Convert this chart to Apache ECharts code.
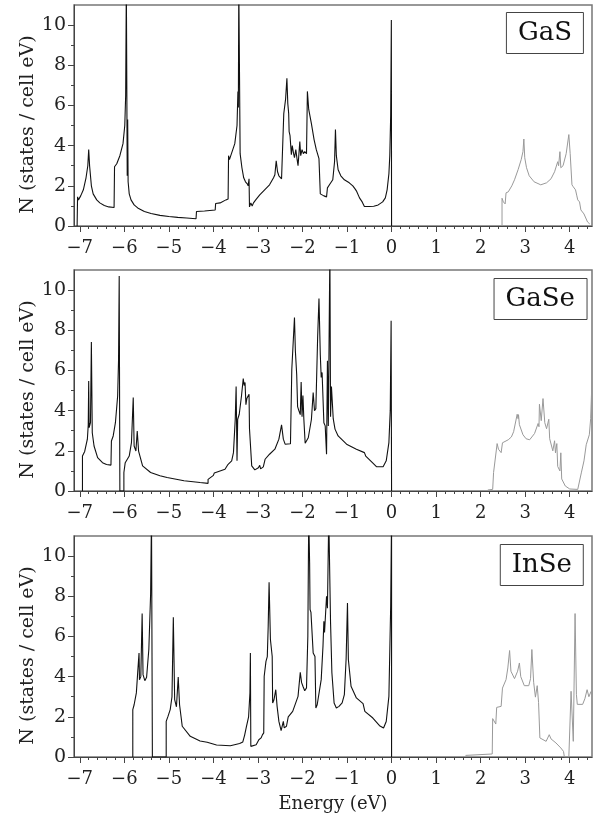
<!DOCTYPE html>
<html>
<head>
<meta charset="utf-8" />
<title>DOS GaS GaSe InSe</title>
<script src="https://cdn.jsdelivr.net/npm/echarts@6/dist/echarts.min.js"></script>
<style>
    html, body { margin: 0; padding: 0; background: #fff; }
    #main { width: 594px; height: 819px; }
</style>
</head>
<body>
<div id="main"></div>
<script type="text/javascript">
// energy (eV), N (states / cell eV)
var gasValence = [[-7.06,0],[-7.05,1.45],[-7.03,1.3],[-6.98,1.5],[-6.92,1.8],[-6.86,2.4],[-6.82,3.0],[-6.80,3.8],[-6.78,3.0],[-6.74,2.0],[-6.70,1.6],[-6.62,1.3],[-6.55,1.15],[-6.45,1.02],[-6.35,0.95],[-6.23,0.92],[-6.22,2.95],[-6.17,3.1],[-6.10,3.5],[-6.03,4.1],[-5.99,5.0],[-5.97,6.5],[-5.955,12],[-5.945,12],[-5.935,2.5],[-5.925,5.3],[-5.915,2.2],[-5.89,1.6],[-5.85,1.3],[-5.78,1.05],[-5.70,0.9],[-5.55,0.72],[-5.40,0.62],[-5.20,0.53],[-5.00,0.47],[-4.80,0.43],[-4.60,0.4],[-4.39,0.36],[-4.38,0.72],[-4.2,0.75],[-3.96,0.8],[-3.95,1.12],[-3.85,1.15],[-3.72,1.3],[-3.67,1.35],[-3.66,3.5],[-3.64,3.3],[-3.58,3.7],[-3.52,4.1],[-3.47,5.0],[-3.45,6.7],[-3.44,5.9],[-3.43,12],[-3.42,12],[-3.40,3.6],[-3.36,2.9],[-3.32,2.4],[-3.28,2.2],[-3.24,2.1],[-3.22,2.0],[-3.2,2.35],[-3.19,0.95],[-3.16,1.15],[-3.13,1.0],[-3.10,1.15],[-3.05,1.3],[-2.96,1.55],[-2.85,1.8],[-2.74,2.05],[-2.65,2.4],[-2.62,2.55],[-2.59,3.25],[-2.56,2.7],[-2.53,2.5],[-2.47,2.35],[-2.43,2.35],[-2.42,5.6],[-2.38,6.3],[-2.35,7.35],[-2.33,6.1],[-2.31,5.6],[-2.30,4.7],[-2.28,4.5],[-2.25,3.55],[-2.23,4.0],[-2.20,3.6],[-2.18,3.4],[-2.15,3.8],[-2.12,3.3],[-2.10,3.0],[-2.08,3.05],[-2.06,4.2],[-2.04,3.5],[-2.01,3.8],[-1.98,3.6],[-1.95,3.7],[-1.91,3.6],[-1.89,6.7],[-1.86,5.8],[-1.80,5.1],[-1.74,4.3],[-1.69,3.8],[-1.63,3.35],[-1.60,1.6],[-1.52,1.5],[-1.46,1.45],[-1.44,1.9],[-1.38,2.1],[-1.32,2.3],[-1.28,3.2],[-1.26,4.8],[-1.24,3.5],[-1.20,2.8],[-1.14,2.5],[-1.06,2.3],[-0.95,2.15],[-0.87,2.0],[-0.82,1.85],[-0.79,1.75],[-0.72,1.4],[-0.66,1.2],[-0.61,0.97],[-0.50,0.97],[-0.40,0.98],[-0.30,1.05],[-0.20,1.2],[-0.14,1.4],[-0.10,1.8],[-0.06,2.6],[-0.04,3.5],[-0.02,5.5],[-0.005,10.25],[0,0]];
var gasConduction = [[2.48,0],[2.48,1.38],[2.51,1.2],[2.55,1.1],[2.57,1.65],[2.62,1.7],[2.70,2.0],[2.76,2.3],[2.84,2.8],[2.91,3.3],[2.95,3.7],[2.97,4.33],[2.99,3.4],[3.03,2.9],[3.09,2.5],[3.2,2.2],[3.35,2.05],[3.48,2.15],[3.58,2.35],[3.66,2.7],[3.73,3.2],[3.75,3.0],[3.78,3.7],[3.80,2.9],[3.85,3.0],[3.92,3.6],[3.98,4.55],[4.01,3.6],[4.05,2.05],[4.08,1.95],[4.13,1.8],[4.16,1.5],[4.18,1.3],[4.22,1.2],[4.25,0.8],[4.32,0.6],[4.4,0.2],[4.45,0.1]];

var gaseValence = [[-6.94,0],[-6.94,1.74],[-6.89,1.97],[-6.83,2.58],[-6.81,3.3],[-6.80,5.48],[-6.79,3.16],[-6.76,3.4],[-6.74,7.42],[-6.72,2.9],[-6.68,2.24],[-6.60,1.66],[-6.49,1.41],[-6.40,1.32],[-6.30,1.29],[-6.29,2.49],[-6.25,2.74],[-6.2,3.4],[-6.15,4.73],[-6.13,6.5],[-6.115,10.7],[-6.10,0],[-6.01,0],[-6.01,0.92],[-5.98,1.41],[-5.89,1.74],[-5.84,2.41],[-5.80,4.65],[-5.78,2.24],[-5.74,1.99],[-5.71,2.99],[-5.68,1.99],[-5.59,1.25],[-5.41,0.92],[-5.2,0.76],[-5.04,0.67],[-4.66,0.51],[-4.3,0.42],[-4.12,0.38],[-4.12,0.58],[-4.0,0.78],[-3.98,0.9],[-3.74,1.08],[-3.67,1.33],[-3.59,1.5],[-3.55,1.91],[-3.51,3.57],[-3.49,5.2],[-3.47,1.5],[-3.455,3.57],[-3.42,3.82],[-3.37,4.73],[-3.33,5.6],[-3.31,5.25],[-3.29,5.4],[-3.27,4.3],[-3.25,4.6],[-3.20,4.82],[-3.19,3.1],[-3.14,1.25],[-3.07,1.05],[-2.99,1.16],[-2.96,1.28],[-2.94,1.1],[-2.88,1.2],[-2.84,1.58],[-2.74,1.83],[-2.62,2.08],[-2.53,2.58],[-2.47,3.29],[-2.43,2.58],[-2.39,2.33],[-2.27,2.35],[-2.24,6.06],[-2.18,8.64],[-2.16,6.98],[-2.13,5.8],[-2.11,4.2],[-2.08,3.99],[-2.05,3.8],[-2.03,5.43],[-2.01,3.7],[-1.99,4.75],[-1.97,3.6],[-1.94,2.38],[-1.87,2.65],[-1.80,3.56],[-1.76,4.9],[-1.73,4.0],[-1.70,4.1],[-1.66,7.64],[-1.63,9.58],[-1.60,6.77],[-1.58,5.65],[-1.56,5.9],[-1.52,3.4],[-1.49,3.24],[-1.46,1.83],[-1.44,6.48],[-1.42,3.24],[-1.385,12],[-1.37,3.7],[-1.35,5.2],[-1.31,3.6],[-1.27,3.08],[-1.20,2.74],[-1.01,2.33],[-0.79,2.08],[-0.61,1.91],[-0.58,1.74],[-0.43,1.41],[-0.34,1.21],[-0.19,1.21],[-0.12,1.5],[-0.06,2.41],[-0.03,4.0],[-0.01,8.47],[0,0]];
var gaseConduction = [[2.16,0.05],[2.27,0.08],[2.29,0.92],[2.37,2.36],[2.40,2.08],[2.46,1.91],[2.49,2.4],[2.62,2.55],[2.69,2.69],[2.74,2.95],[2.82,3.82],[2.84,3.6],[2.85,3.8],[2.87,3.3],[2.95,2.8],[3.02,2.6],[3.10,2.55],[3.21,2.86],[3.29,3.36],[3.31,3.2],[3.32,4.32],[3.36,3.5],[3.40,4.6],[3.44,3.4],[3.48,3.1],[3.53,3.57],[3.55,2.6],[3.62,2.0],[3.66,2.5],[3.68,1.9],[3.71,2.36],[3.73,1.22],[3.78,1.0],[3.80,1.9],[3.82,0.6],[3.90,0.25],[4.00,0.1],[4.18,0.08],[4.26,0.9],[4.32,1.5],[4.37,2.3],[4.44,2.8],[4.47,3.6],[4.49,4.9]];

var inseValence = [[-5.81,0],[-5.81,2.36],[-5.78,2.6],[-5.73,3.19],[-5.70,4.2],[-5.67,5.18],[-5.66,3.84],[-5.63,4.0],[-5.60,7.14],[-5.58,4.1],[-5.54,3.8],[-5.50,3.97],[-5.45,5.35],[-5.41,8.1],[-5.39,12],[-5.37,0],[-5.06,0],[-5.06,1.77],[-5.02,2.02],[-4.97,2.36],[-4.93,3.0],[-4.90,6.96],[-4.87,2.86],[-4.83,2.5],[-4.79,3.98],[-4.76,2.6],[-4.70,1.53],[-4.52,1.03],[-4.3,0.8],[-4.14,0.73],[-3.93,0.6],[-3.62,0.56],[-3.41,0.67],[-3.34,0.75],[-3.30,1.08],[-3.26,1.5],[-3.21,2.0],[-3.18,3.19],[-3.17,5.18],[-3.16,0.53],[-3.04,0.61],[-2.98,0.86],[-2.93,0.95],[-2.90,1.1],[-2.87,1.2],[-2.86,4.02],[-2.82,4.76],[-2.79,5.0],[-2.77,6.51],[-2.75,8.7],[-2.72,5.85],[-2.69,5.94],[-2.68,5.0],[-2.67,2.69],[-2.64,2.85],[-2.60,3.35],[-2.57,2.52],[-2.53,1.77],[-2.48,1.31],[-2.43,1.77],[-2.41,1.45],[-2.36,1.53],[-2.32,2.0],[-2.22,2.27],[-2.10,3.02],[-2.05,4.22],[-2.02,3.7],[-1.99,3.52],[-1.95,3.3],[-1.91,3.44],[-1.88,6.0],[-1.86,12],[-1.84,9.67],[-1.83,7.34],[-1.81,7.2],[-1.76,5.18],[-1.72,5.0],[-1.70,2.44],[-1.67,2.6],[-1.63,2.68],[-1.58,3.85],[-1.54,5.51],[-1.52,6.76],[-1.505,6.2],[-1.46,8.0],[-1.44,7.4],[-1.41,12],[-1.39,12],[-1.37,6.7],[-1.34,4.19],[-1.29,2.69],[-1.24,2.44],[-1.18,2.52],[-1.11,2.69],[-1.06,3.1],[-1.02,4.9],[-0.99,7.67],[-0.97,4.85],[-0.91,3.52],[-0.79,2.94],[-0.64,2.66],[-0.60,2.27],[-0.42,1.94],[-0.27,1.56],[-0.18,1.44],[-0.12,1.77],[-0.06,3.02],[-0.02,7.5],[0,12],[0,0]];
var inseConduction = [[1.66,0.08],[2.26,0.15],[2.27,1.91],[2.34,1.64],[2.36,2.47],[2.46,2.52],[2.49,3.43],[2.57,3.85],[2.61,4.43],[2.65,5.3],[2.68,4.27],[2.76,3.9],[2.83,4.27],[2.87,4.68],[2.90,4.0],[2.98,3.55],[3.08,3.55],[3.12,3.9],[3.15,5.35],[3.19,3.72],[3.23,2.98],[3.27,3.55],[3.30,2.72],[3.33,0.95],[3.47,0.78],[3.54,1.11],[3.58,0.9],[3.69,0.7],[3.80,0.45],[3.86,0.28],[3.88,0],[3.98,0],[4.03,3.27],[4.08,0.78],[4.12,7.14],[4.15,3.1],[4.17,2.62],[4.29,2.62],[4.34,2.9],[4.39,3.35],[4.43,3.0],[4.48,3.27]];

var panelNames = ['GaS', 'GaSe', 'InSe'];
var valenceSets = [gasValence, gaseValence, inseValence];
var conductionSets = [gasConduction, gaseConduction, inseConduction];

var xMajorTicks = [-7, -6, -5, -4, -3, -2, -1, 0, 1, 2, 3, 4];
var yMajorTicks = [0, 2, 4, 6, 8, 10];
var yMinorTicks = [1, 3, 5, 7, 9];
var xMinorTicks = [];
for (var k = -34; k <= 22; k++) {
    if (k % 5 !== 0) xMinorTicks.push(k / 5);
}

var xMin = -7.13, xMax = 4.5, yMin = 0, yMax = 11;
var font = 'DejaVu Serif';
var textColor = '#222';
var axisColor = '#444';

var gridTops = [5, 270, 536];
var labelBoxes = [
    { right: 10, top: 12 },
    { right: 7, top: 278 },
    { right: 10, top: 544 }
];

function fmt(v) {
    return v < 0 ? '\u2212' + (-v) : String(v);
}

var myChart = echarts.init(document.getElementById('main'));

var grid = [], xAxis = [], yAxis = [], series = [], title = [];

for (var i = 0; i < 3; i++) {
    grid.push({
        left: 74, top: gridTops[i], width: 518, height: 221,
        show: true, borderColor: '#777', borderWidth: 1.5, backgroundColor: 'transparent'
    });

    // main x axis: line, major ticks, labels
    xAxis.push({
        gridIndex: i, type: 'value', min: xMin, max: xMax, position: 'bottom',
        axisLine: { show: true, onZero: false, lineStyle: { color: axisColor, width: 1 } },
        axisTick: { show: true, inside: false, length: 6, customValues: xMajorTicks, lineStyle: { color: axisColor } },
        axisLabel: { customValues: xMajorTicks, formatter: fmt, fontFamily: font, fontSize: 18, color: textColor, margin: 13 },
        splitLine: { show: false },
        name: i === 2 ? 'Energy (eV)' : '',
        nameLocation: 'middle', nameGap: 38, nameMoveOverlap: false,
        nameTextStyle: { fontFamily: font, fontSize: 18, color: textColor }
    });
    // minor x ticks
    xAxis.push({
        gridIndex: i, type: 'value', min: xMin, max: xMax, position: 'bottom',
        axisLine: { show: false, onZero: false },
        axisTick: { show: true, inside: false, length: 3, customValues: xMinorTicks, lineStyle: { color: axisColor } },
        axisLabel: { show: false },
        splitLine: { show: false }
    });

    yAxis.push({
        gridIndex: i, type: 'value', min: yMin, max: yMax, position: 'left',
        axisLine: { show: true, onZero: false, lineStyle: { color: axisColor, width: 1 } },
        axisTick: { show: true, inside: false, length: 6, customValues: yMajorTicks, lineStyle: { color: axisColor } },
        axisLabel: { customValues: yMajorTicks, fontFamily: font, fontSize: 19, color: textColor, margin: 8 },
        splitLine: { show: false },
        name: 'N (states / cell eV)',
        nameLocation: 'middle', nameGap: 36, nameRotate: 90, nameMoveOverlap: false,
        nameTextStyle: { fontFamily: font, fontSize: 19, color: textColor, padding: [0, 18, 0, 0] }
    });
    yAxis.push({
        gridIndex: i, type: 'value', min: yMin, max: yMax, position: 'left',
        axisLine: { show: false, onZero: false },
        axisTick: { show: true, inside: false, length: 3, customValues: yMinorTicks, lineStyle: { color: axisColor } },
        axisLabel: { show: false },
        splitLine: { show: false }
    });

    series.push({
        name: panelNames[i] + ' valence', type: 'line',
        xAxisIndex: 2 * i, yAxisIndex: 2 * i,
        data: valenceSets[i], showSymbol: false, clip: true,
        lineStyle: { color: '#111', width: 1.1 }
    });
    series.push({
        name: panelNames[i] + ' conduction', type: 'line',
        xAxisIndex: 2 * i, yAxisIndex: 2 * i,
        data: conductionSets[i], showSymbol: false, clip: true,
        lineStyle: { color: '#999', width: 1 }
    });

    title.push({
        text: panelNames[i], right: labelBoxes[i].right, top: labelBoxes[i].top,
        padding: [8, 12, 8, 12], borderColor: '#444', borderWidth: 1, backgroundColor: '#fff',
        textStyle: { fontFamily: font, fontSize: 26, fontWeight: 'normal', color: '#111' }
    });
}

var option = {
    animation: false,
    backgroundColor: '#fff',
    title: title,
    grid: grid,
    xAxis: xAxis,
    yAxis: yAxis,
    series: series
};

myChart.setOption(option);
</script>
</body>
</html>
